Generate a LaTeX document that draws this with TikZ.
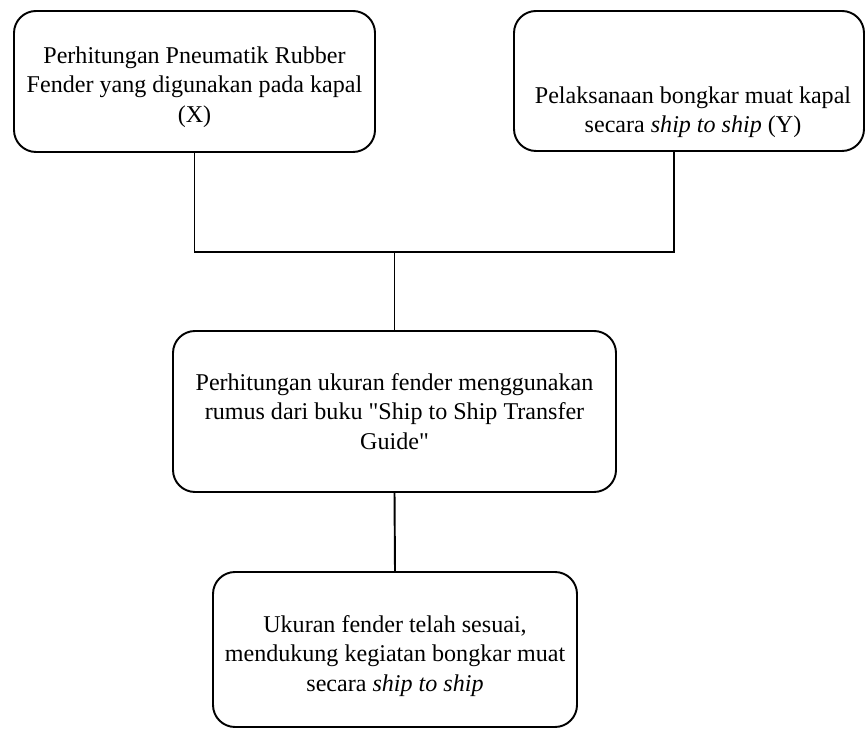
\documentclass[tikz,border=0pt]{standalone}
\usepackage{fontspec}
\setmainfont{Liberation Serif}
\usetikzlibrary{calc}

\begin{document}
\begin{tikzpicture}[
		kotak/.style={draw, line width=1.1pt, rounded corners=0.44cm, inner sep=0pt},
		teks/.style={align=center, font=\fontsize{13.7}{16.8}\selectfont},
		garis/.style={line width=1.1pt}]
		%%%%% START %%%%%
		
		\useasboundingbox (0, 0) rectangle (17.3, 14.58);
		
		\node[kotak, minimum width=7.22cm, minimum height=2.82cm] (x) at (3.89, 12.95) {};
		\node[teks] (xtxt) at ($(x.center)+(0, -0.11)$) {Perhitungan Pneumatik Rubber\\Fender yang digunakan pada kapal\\(X)};
		
		\node[kotak, minimum width=7.0cm, minimum height=2.8cm] (y) at (13.78, 12.96) {};
		\node[teks] (ytxt) at ($(y.center)+(0.08, -0.62)$) {Pelaksanaan bongkar muat kapal\\secara \textit{ship to ship} (Y)};
		
		\node[kotak, minimum width=8.86cm, minimum height=3.22cm] (rumus) at (7.89, 6.35) {};
		\node[teks] (rumustxt) at (rumus.center) {Perhitungan ukuran fender menggunakan\\rumus dari buku \textquotedbl Ship to Ship Transfer\\Guide\textquotedbl};
		
		\node[kotak, minimum width=7.28cm, minimum height=3.1cm] (hasil) at (7.9, 1.59) {};
		\node[teks] (hasiltxt) at ($(hasil.center)+(0, -0.13)$) {Ukuran fender telah sesuai,\\mendukung kegiatan bongkar muat\\secara \textit{ship to ship}};
		
		\coordinate (jy) at (13.48, 9.54);
		\draw[garis] (x.south) |- (jy) -- (jy |- y.south);
		\draw[garis] (rumus.north) -- (rumus.north |- jy);
		\draw[garis] (rumus.south) -- (hasil.north);
		
		%%%%% END %%%%%
	\end{tikzpicture}
\end{document}
